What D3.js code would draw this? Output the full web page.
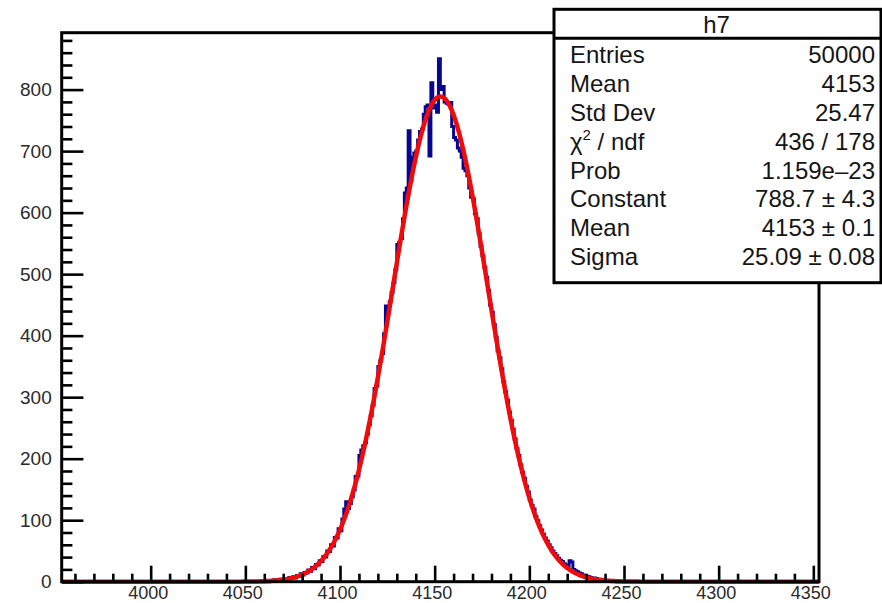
<!DOCTYPE html>
<html>
<head>
<meta charset="utf-8">
<script src="https://cdn.jsdelivr.net/npm/d3@7"></script>
<style>
  html, body { margin: 0; padding: 0; background: #fff; }
  svg { display: block; font-family: "Liberation Sans", Arial, Helvetica, sans-serif; }
</style>
</head>
<body>
<svg id="chart" width="882" height="603"></svg>
<script>
// ---- histogram h7: 400 bins of width 1 over [3953, 4353] ----
const xRange = [3953, 4353];
const binWidth = 1;
const firstBinLow = 4060;          // low edge of the first listed bin
// counts of consecutive bins starting at firstBinLow (all other bins are empty)
const countsLeft = [
  0, 1, 0, 2, 1, 3, 2, 1, 4, 3,
  2, 5, 4, 7, 5, 8, 6, 10, 9, 13,
  11, 15, 14, 19, 17, 23, 21, 28, 27, 34,
  33, 41, 40, 50, 49, 60, 58, 72, 71, 86,
  83, 102, 118, 130, 119, 127, 138, 149, 171, 172,
  205, 214, 221, 226, 240, 255, 270, 287, 314, 318,
  350, 359, 371, 403, 448, 446, 455, 470, 486, 507,
  548, 552, 558, 590, 632, 640, 733, 652, 690, 697,
  700, 718, 732, 736, 760, 772, 775, 692, 811, 770,
  775, 763, 850
];
const countsRight = [
  800, 805, 780, 778, 776, 779, 740,
  722, 718, 705, 700, 690, 672, 668, 660, 640, 625,
  622, 598, 590, 566, 545, 530, 511, 495, 474, 450,
  438, 418, 398, 375, 364, 346, 325, 309, 295, 276,
  262, 248, 232, 216, 205, 190, 178, 168, 155, 146,
  133, 124, 118, 106, 99, 91, 84, 77, 71, 66,
  60, 55, 50, 46, 42, 38, 35, 33, 29, 27,
  25, 34, 32, 20, 18, 16, 14, 13, 11, 10,
  9, 8, 7, 6, 6, 5, 4, 4, 3, 3,
  2, 2, 2, 1, 1, 1, 0, 1, 0, 0
];
const counts = countsLeft.concat(countsRight);

// gaus fit result
const fitConstant = 788.7;
const fitMean = 4153;
const fitSigma = 25.09;

// axis ticks
const xMajorTicks = [4000, 4050, 4100, 4150, 4200, 4250, 4300, 4350];
const xMinorTicks = d3.range(3960, 4354, 10);
const yMajorTicks = [0, 100, 200, 300, 400, 500, 600, 700, 800];
const yMinorTicks = d3.range(0, 890, 20);

// stats box
const statsTitle = "h7";
const statsLabels = ["Entries", "Mean", "Std Dev", "CHI2", "Prob", "Constant", "Mean", "Sigma"];
const statsValues = ["50000", "4153", "25.47", "436 / 178", "1.159e\u201323",
                     "788.7 \u00b1 4.3", "4153 \u00b1 0.1", "25.09 \u00b1 0.08"];

// ---- layout ----
const frame = { left: 61.7, right: 819, top: 32.7, bottom: 581.7 };
const svg = d3.select("#chart");

const x = d3.scaleLinear().domain(xRange).range([frame.left, frame.right]);
const yTop = d3.max(counts) * 1.05;
const y = d3.scaleLinear().domain([0, yTop]).range([frame.bottom, frame.top]);

svg.append("defs").append("clipPath").attr("id", "plotClip")
  .append("rect")
  .attr("x", frame.left).attr("y", frame.top)
  .attr("width", frame.right - frame.left)
  .attr("height", frame.bottom - frame.top + 4);

const plot = svg.append("g").attr("clip-path", "url(#plotClip)");

// histogram outline as a step path
const stepPts = [[xRange[0], 0], [firstBinLow, 0]];
counts.forEach((c, i) => {
  const lo = firstBinLow + i * binWidth;
  stepPts.push([lo, c], [lo + binWidth, c]);
});
const lastHigh = firstBinLow + counts.length * binWidth;
stepPts.push([lastHigh, 0], [xRange[1], 0]);

plot.append("path")
  .datum(stepPts)
  .attr("fill", "none")
  .attr("stroke", "#06068f")
  .attr("stroke-width", 3)
  .attr("d", d3.line().x(d => x(d[0])).y(d => y(d[1])));

// fitted gaussian
const fitPts = d3.range(xRange[0], xRange[1] + 0.01, 0.5).map(v =>
  [v, fitConstant * Math.exp(-0.5 * Math.pow((v - fitMean) / fitSigma, 2))]);
plot.append("path")
  .datum(fitPts)
  .attr("fill", "none")
  .attr("stroke", "#f00a0a")
  .attr("stroke-width", 4.5)
  .attr("stroke-linejoin", "round")
  .attr("d", d3.line().x(d => x(d[0])).y(d => y(d[1])).curve(d3.curveMonotoneX));

// ---- axes ----
const axisColor = "#000";
const labelColor = "#2a2a2a";

const gx = svg.append("g").attr("transform", `translate(0,${frame.bottom})`);
gx.call(d3.axisBottom(x).tickValues(xMinorTicks.filter(v => v % 50 !== 0))
  .tickSize(-8).tickFormat(""));
const gxMajor = svg.append("g").attr("transform", `translate(0,${frame.bottom})`)
  .call(d3.axisBottom(x).tickValues(xMajorTicks).tickSize(-16).tickPadding(5)
    .tickFormat(d3.format("d")));
[gx, gxMajor].forEach(g => {
  g.select(".domain").remove();
  g.selectAll("line").attr("stroke", axisColor).attr("stroke-width", 2.6);
});
gxMajor.selectAll("text")
  .attr("fill", labelColor)
  .attr("font-size", 18)
  .attr("dx", -3)
  .style("font-family", "'Liberation Sans', Arial, sans-serif");

const gy = svg.append("g").attr("transform", `translate(${frame.left},0)`)
  .call(d3.axisLeft(y).tickValues(yMinorTicks.filter(v => v % 100 !== 0))
    .tickSize(-10.7).tickFormat(""));
const gyMajor = svg.append("g").attr("transform", `translate(${frame.left},0)`)
  .call(d3.axisLeft(y).tickValues(yMajorTicks).tickSize(-21.7).tickPadding(10)
    .tickFormat(d3.format("d")));
[gy, gyMajor].forEach(g => {
  g.select(".domain").remove();
  g.selectAll("line").attr("stroke", axisColor).attr("stroke-width", 2.6);
});
gyMajor.selectAll("text")
  .attr("fill", labelColor)
  .attr("font-size", 19)
  .style("font-family", "'Liberation Sans', Arial, sans-serif");

// frame
svg.append("rect")
  .attr("x", frame.left).attr("y", frame.top)
  .attr("width", frame.right - frame.left)
  .attr("height", frame.bottom - frame.top)
  .attr("fill", "none")
  .attr("stroke", axisColor)
  .attr("stroke-width", 3);

// ---- stats box ----
const box = { left: 554, top: 9.3, right: 881, bottom: 282.7, header: 38.3 };
const stats = svg.append("g").attr("font-size", 24).attr("fill", "#151515");
stats.append("rect")
  .attr("x", box.left).attr("y", box.top)
  .attr("width", box.right - box.left).attr("height", box.bottom - box.top)
  .attr("fill", "#fff").attr("stroke", "#000").attr("stroke-width", 3);
stats.append("line")
  .attr("x1", box.left).attr("x2", box.right)
  .attr("y1", box.header).attr("y2", box.header)
  .attr("stroke", "#000").attr("stroke-width", 3);
stats.append("text")
  .attr("x", (box.left + box.right) / 2 - 1).attr("y", 32.5)
  .attr("text-anchor", "middle")
  .text(statsTitle);

const rowBase = 63.3, rowStep = 28.8;
statsLabels.forEach((lab, i) => {
  const t = stats.append("text").attr("x", 570).attr("y", rowBase + i * rowStep);
  if (lab === "CHI2") {
    t.append("tspan").text("\u03c7");
    t.append("tspan").attr("font-size", 15).attr("dy", -10).text("2");
    t.append("tspan").attr("dy", 10).text(" / ndf");
  } else {
    t.text(lab);
  }
});
statsValues.forEach((val, i) => {
  stats.append("text")
    .attr("x", 875).attr("y", rowBase + i * rowStep)
    .attr("text-anchor", "end")
    .text(val);
});
</script>
</body>
</html>
